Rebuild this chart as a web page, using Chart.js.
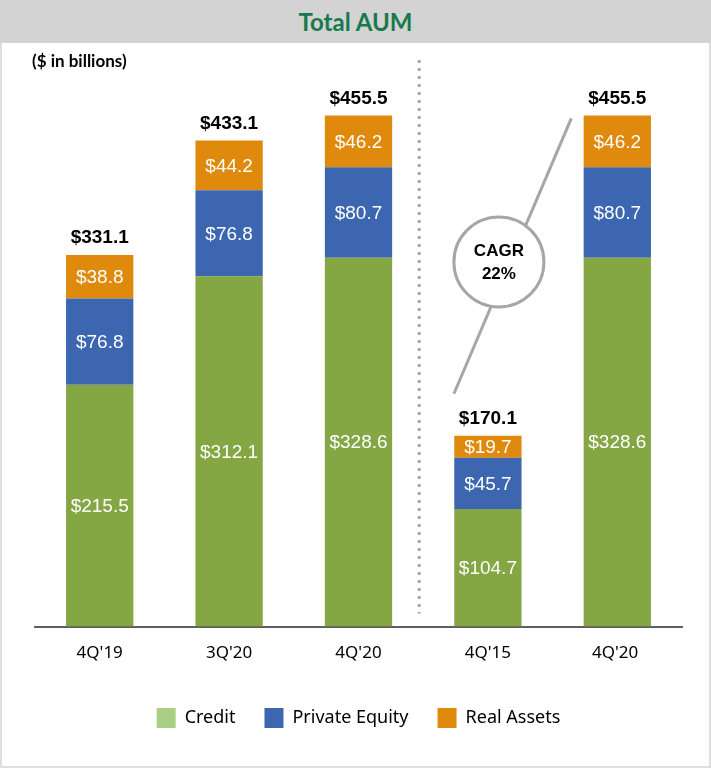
<!DOCTYPE html>
<html>
<head>
<meta charset="utf-8">
<script src="https://cdn.jsdelivr.net/npm/chart.js@4/dist/chart.umd.min.js"></script>
<style>
  body { margin: 0; background: #fff; }
  #wrap { position: relative; width: 711px; height: 768px; box-sizing: border-box; border: 2px solid #dedede; border-top: none; }
  #head { position: absolute; left: 0; top: 0; width: 711px; height: 43px; margin-left: -2px; background: #d3d3d3;
          color: #177a4c; font: bold 24px Lato, "Open Sans", sans-serif; text-align: center; line-height: 43px; }
  #unit { position: absolute; left: 30px; top: 50px; font: bold 17px Lato, "Open Sans", sans-serif; color: #000; }
  canvas { position: absolute; left: -2px; top: 0; }
</style>
</head>
<body>
<div id="wrap">
  <canvas id="chart" width="711" height="768"></canvas>
  <div id="head">Total AUM</div>
  <div id="unit">($ in billions)</div>
</div>
<script>
const categories = ["4Q'19", "3Q'20", "4Q'20", "4Q'15", "4Q'20 "];
const credit = [215.5, 312.1, 328.6, 104.7, 328.6];
const privateEquity = [76.8, 76.8, 80.7, 45.7, 80.7];
const realAssets = [38.8, 44.2, 46.2, 19.7, 46.2];
const totals = [331.1, 433.1, 455.5, 170.1, 455.5];
const cagrLabel = ["CAGR", "22%"];

const GREEN = "#84a744";
const BLUE = "#3c66b0";
const ORANGE = "#df8a0c";
const LEGEND_GREEN = "#a9cf85";

const labelsPlugin = {
  id: "barLabels",
  afterDatasetsDraw(chart) {
    const ctx = chart.ctx;
    ctx.save();
    ctx.textAlign = "center";
    ctx.textBaseline = "middle";

    ctx.font = "19px 'Liberation Sans', Arial, sans-serif";
    ctx.fillStyle = "#fff";
    chart.data.datasets.forEach((ds, i) => {
      chart.getDatasetMeta(i).data.forEach((bar, j) => {
        const mid = (bar.y + bar.base) / 2;
        ctx.fillText("$" + ds.data[j].toFixed(1), bar.x, mid + 1);
      });
    });

    ctx.font = "bold 19px 'Liberation Sans', Arial, sans-serif";
    ctx.fillStyle = "#000";
    const topMeta = chart.getDatasetMeta(2);
    topMeta.data.forEach((bar, j) => {
      ctx.fillText("$" + totals[j].toFixed(1), bar.x, bar.y - 17);
    });

    // dotted separator
    const x2 = topMeta.data[2].x;
    const x3 = topMeta.data[3].x;
    const sepX = (x2 + x3) / 2 - 4;
    ctx.strokeStyle = "#a6a6a6";
    ctx.lineWidth = 3;
    ctx.setLineDash([3, 5]);
    ctx.beginPath();
    ctx.moveTo(sepX, 60);
    ctx.lineTo(sepX, chart.chartArea.bottom - 13);
    ctx.stroke();
    ctx.setLineDash([]);

    // CAGR callout
    const y = chart.scales.y;
    const cx = x3 + 11;
    const cy = y.getPixelForValue(325);
    const r = 45;
    const start = { x: x3 - 34, y: topMeta.data[3].y - 42 };
    const end = { x: topMeta.data[4].x - 46, y: topMeta.data[4].y + 3 };
    ctx.beginPath();
    ctx.moveTo(start.x, start.y);
    ctx.lineTo(end.x, end.y);
    ctx.stroke();
    ctx.beginPath();
    ctx.arc(cx, cy, r, 0, Math.PI * 2);
    ctx.fillStyle = "#fff";
    ctx.fill();
    ctx.stroke();
    ctx.fillStyle = "#000";
    ctx.font = "bold 17px 'Liberation Sans', Arial, sans-serif";
    ctx.fillText(cagrLabel[0], cx, cy - 11);
    ctx.fillText(cagrLabel[1], cx, cy + 12);
    ctx.restore();
  },
};

new Chart(document.getElementById("chart"), {
  type: "bar",
  data: {
    labels: categories,
    datasets: [
      { label: "Credit", data: credit, backgroundColor: GREEN, legendColor: LEGEND_GREEN },
      { label: "Private Equity", data: privateEquity, backgroundColor: BLUE, legendColor: BLUE },
      { label: "Real Assets", data: realAssets, backgroundColor: ORANGE, legendColor: ORANGE },
    ],
  },
  options: {
    responsive: false,
    animation: false,
    barPercentage: 0.52,
    categoryPercentage: 1,
    layout: { padding: { top: 65.5, left: 35, right: 29, bottom: 30 } },
    scales: {
      x: {
        stacked: true,
        grid: { display: false, drawTicks: false },
        border: { display: true, color: "#5f5f5f", width: 2 },
        ticks: { color: "#000", padding: 16, font: { family: "'Noto Sans', sans-serif", size: 17 } },
      },
      y: {
        stacked: true,
        display: false,
        min: 0,
        max: 500,
      },
    },
    plugins: {
      tooltip: { enabled: false },
      legend: {
        position: "bottom",
        labels: {
          color: "#000",
          boxWidth: 19,
          boxHeight: 20,
          padding: 29,
          font: { family: "'Noto Sans', sans-serif", size: 18 },
          generateLabels: (chart) =>
            chart.data.datasets.map((ds, i) => ({
              text: ds.label,
              fillStyle: ds.legendColor,
              strokeStyle: ds.legendColor,
              lineWidth: 0,
              datasetIndex: i,
            })),
        },
      },
    },
  },
  plugins: [labelsPlugin],
});
</script>
</body>
</html>
